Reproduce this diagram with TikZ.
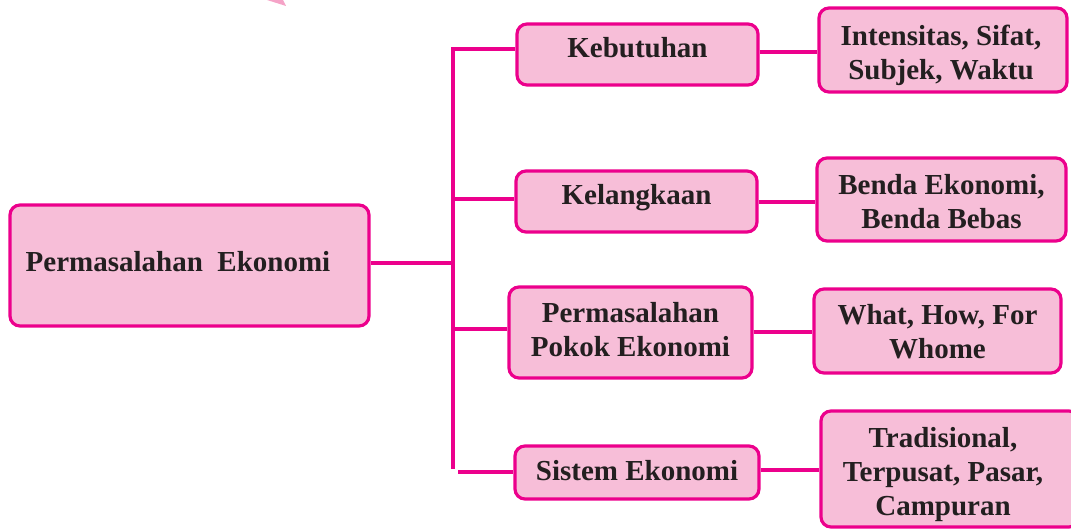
\documentclass[tikz,border=0pt]{standalone}
\usepackage{fontspec}
\setmainfont{Liberation Serif}
\definecolor{boxfill}{HTML}{F7BED8}
\definecolor{boxline}{HTML}{EC008C}
\definecolor{ink}{HTML}{231F20}
\definecolor{tri}{HTML}{F5A3C7}
\tikzset{
  box/.style={draw=boxline, fill=boxfill, line width=3.2pt, rounded corners=10pt, inner sep=0pt},
  lbl/.style={text=ink, font=\bfseries\fontsize{29}{34}\selectfont, align=center, inner sep=0pt},
  conn/.style={draw=boxline, line width=3.2pt}
}
\begin{document}
\begin{tikzpicture}[x=1pt, y=-1pt]
\useasboundingbox (0,0) rectangle (1071,529);
\fill[tri] (267,0) -- (283,0) -- (286,6) -- cycle;

% boxes
\node[box, minimum width=359pt, minimum height=121pt] (main) at (189.5,265.5) {};
\node[box, minimum width=241pt, minimum height=61pt] (k1) at (637.5,54.5) {};
\node[box, minimum width=241pt, minimum height=61pt] (k2) at (636.5,201.5) {};
\node[box, minimum width=243pt, minimum height=91pt] (k3) at (630.5,332.5) {};
\node[box, minimum width=244pt, minimum height=53pt] (k4) at (637,472.5) {};
\node[box, minimum width=248pt, minimum height=84pt] (r1) at (943,50) {};
\node[box, minimum width=249pt, minimum height=83pt] (r2) at (941.5,199.5) {};
\node[box, minimum width=247pt, minimum height=84pt] (r3) at (937.5,331) {};
\node[box, minimum width=258pt, minimum height=116pt] (r4) at (950,469) {};

% texts
\node[lbl, anchor=base] (maint) at (178,272) {Permasalahan\ \ Ekonomi};
\node[lbl, anchor=base] (k1t) at (637.5,58) {Kebutuhan};
\node[lbl, anchor=base] (k2t) at (636.5,205) {Kelangkaan};
\node[lbl] (k3t) at (630.5,330) {Permasalahan\\Pokok Ekonomi};
\node[lbl, anchor=base] (k4t) at (637,480) {Sistem Ekonomi};
\node[lbl] (r1t) at (941,55) {Intensitas, Sifat,\\Subjek, Waktu};
\node[lbl] (r2t) at (941.5,202) {Benda Ekonomi,\\Benda Bebas};
\node[lbl] (r3t) at (937.5,331.5) {What, How, For\\Whome};
\node[lbl] (r4t) at (943,475) {Tradisional,\\Terpusat, Pasar,\\Campuran};

% trunk
\coordinate (ttop) at (453,49);
\coordinate (tbot) at (453,469);
\coordinate (b4) at (458,472);
\draw[conn] (k1.west |- ttop) -- (ttop) -- (tbot);
\draw[conn] (main.east |- 0,263) -- (ttop |- 0,263);
\draw[conn] (ttop |- 0,199) -- (k2.west |- 0,199);
\draw[conn] (ttop |- 0,329) -- (k3.west |- 0,329);
\draw[conn] (b4) -- (k4.west |- b4);

% right connectors
\draw[conn] (k1.east |- 0,52) -- (r1.west |- 0,52);
\draw[conn] (k2.east |- 0,202) -- (r2.west |- 0,202);
\draw[conn] (k3.east |- 0,332) -- (r3.west |- 0,332);
\draw[conn] (k4.east |- 0,470) -- (r4.west |- 0,470);
\end{tikzpicture}
\end{document}
